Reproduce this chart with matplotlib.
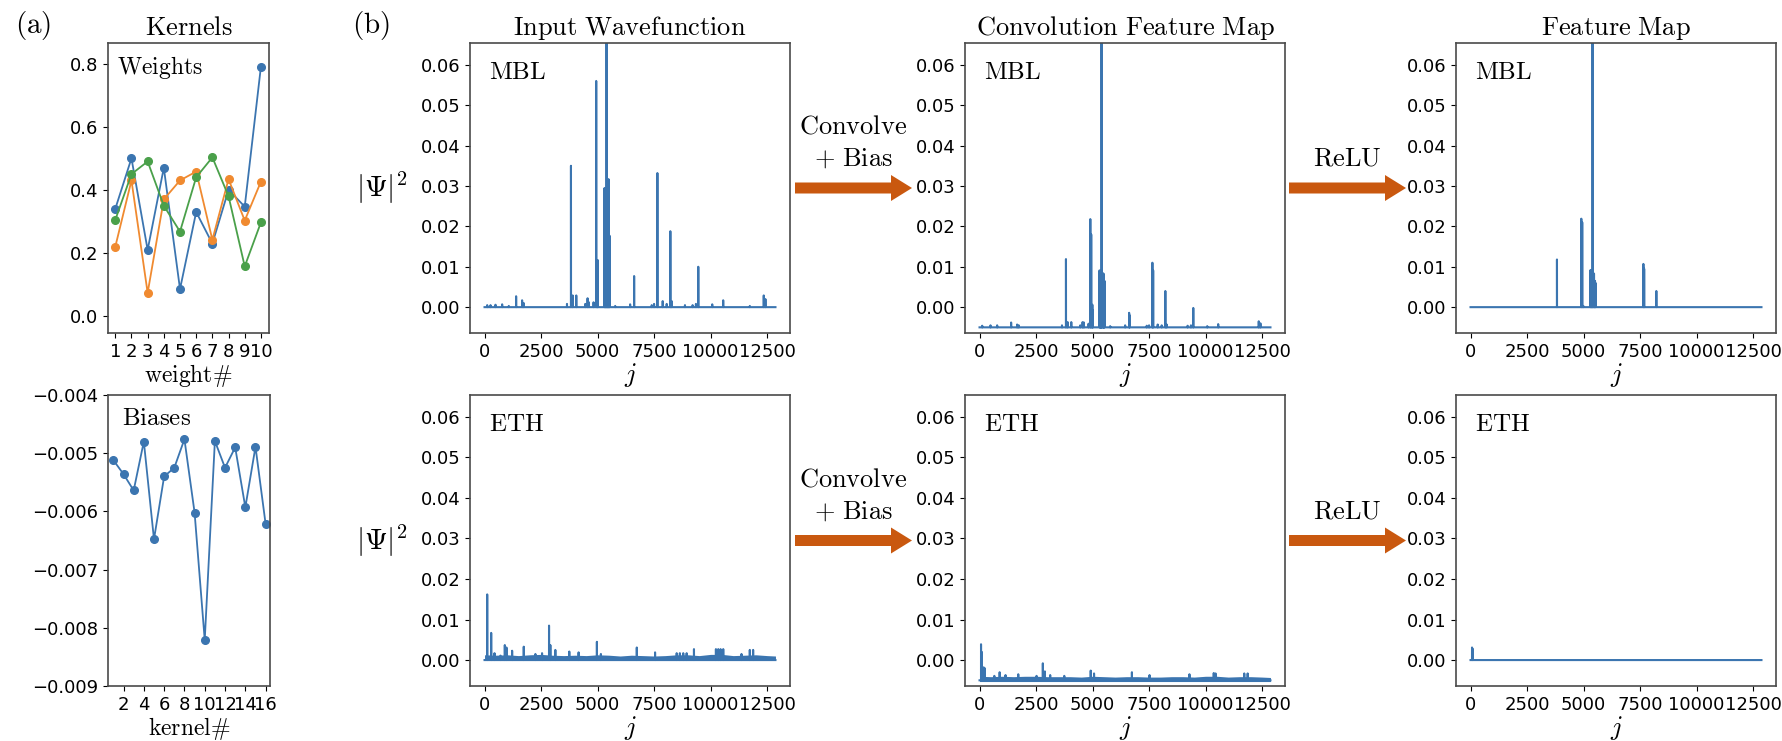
import numpy as np
import matplotlib
matplotlib.use("Agg")
import matplotlib.pyplot as plt
from matplotlib.patches import FancyArrow

plt.rcParams['mathtext.fontset'] = 'cm'
plt.rcParams['axes.edgecolor'] = '#4a4a4a'
plt.rcParams['axes.linewidth'] = 1.2

# ---- datos ----
weight_idx = [1, 2, 3, 4, 5, 6, 7, 8, 9, 10]
weights_k1 = [0.34, 0.50, 0.21, 0.47, 0.086, 0.33, 0.23, 0.40, 0.347, 0.79]
weights_k2 = [0.22, 0.43, 0.074, 0.37, 0.43, 0.458, 0.242, 0.434, 0.303, 0.426]
weights_k3 = [0.305, 0.45, 0.49, 0.35, 0.268, 0.44, 0.503, 0.38, 0.158, 0.297]

kernel_idx = [1, 2, 3, 4, 5, 6, 7, 8, 9, 10, 11, 12, 13, 14, 15, 16]
biases = [-0.00512, -0.00536, -0.00564, -0.00480, -0.00648, -0.00540, -0.00525, -0.00476,
          -0.00602, -0.00821, -0.00479, -0.00525, -0.00490, -0.00593, -0.00489, -0.00622]

n_j = 12870  # dimension del espacio de Hilbert

# MBL: funcion de onda de entrada (picos)
mbl_in_j = [118, 265, 485, 779, 1073, 1397, 1662, 1735, 3647, 3823, 3897, 4058, 4455, 4558,
            4617, 4823, 4940, 4990, 5014, 5308, 5330, 5352, 5375, 5397, 5420, 5440, 5462,
            5484, 5506, 5528, 5779, 6440, 6617, 7396, 7499, 7646, 7881, 8058, 8219, 8278,
            8866, 9204, 9351, 9455, 10072, 10557, 11734, 12351, 12425]
mbl_in_h = [0.0005, 0.0005, 0.0006, 0.0007, 0.0003, 0.0027, 0.0017, 0.0010, 0.0008, 0.0350,
            0.0029, 0.0029, 0.0008, 0.0022, 0.0012, 0.0012, 0.0560, 0.0116, 0.0116, 0.0295,
            0.0280, 0.0200, 0.0150, 0.0900, 0.0120, 0.0150, 0.0200, 0.0317, 0.0100, 0.0177,
            0.0003, 0.0007, 0.0077, 0.0005, 0.0008, 0.0332, 0.0015, 0.0008, 0.0188, 0.0015,
            0.0005, 0.0005, 0.0008, 0.0100, 0.0007, 0.0017, 0.0003, 0.0029, 0.0020]

# MBL: mapa de convolucion (sesgo ~ -0.005)
conv_base = -0.005
mbl_conv_j = [118, 485, 779, 1397, 1662, 1735, 3647, 3823, 3897, 4058, 4455, 4558, 4617,
              4823, 4900, 4940, 4990, 5014, 5308, 5330, 5352, 5375, 5397, 5420, 5462, 5484,
              5506, 5528, 5779, 6440, 6617, 6640, 7396, 7499, 7646, 7680, 7881, 8058, 8219,
              8278, 9204, 9351, 9455, 10072, 10557, 12351, 12425]
mbl_conv_h = [-0.0046, -0.0045, -0.0045, -0.0038, -0.0043, -0.0045, -0.0045, 0.0119,
              -0.0037, -0.0037, -0.0045, -0.0037, -0.0038, -0.0041, 0.0218, 0.0180, 0.0006,
              -0.0008, 0.0091, 0.0089, 0.0080, 0.0070, 0.0900, 0.0085, 0.0083, 0.0083, 0.0065,
              0.0065, -0.0047, -0.0045, -0.0014, -0.0020, -0.0046, -0.0045, 0.0110, 0.0091,
              -0.0043, -0.0045, 0.0040, -0.0043, -0.0046, -0.0045, -0.0002, -0.0047, -0.0042,
              -0.0035, -0.0040]

# MBL: mapa tras ReLU
mbl_relu_j = [3823, 4900, 4940, 4990, 5308, 5330, 5352, 5375, 5397, 5420, 5462, 5484, 5506,
              5528, 7646, 7680, 8219]
mbl_relu_h = [0.0118, 0.0219, 0.0210, 0.0003, 0.0092, 0.0089, 0.0080, 0.0070, 0.0900, 0.0085,
              0.0083, 0.0065, 0.0065, 0.0060, 0.0107, 0.0095, 0.0040]

# ETH: funcion de onda de entrada
eth_in_j = [118, 294, 441, 706, 897, 970, 1220, 1735, 2250, 2544, 2853, 2911, 3132, 3749,
            4161, 4970, 5147, 6735, 7543, 8500, 8640, 8790, 8940, 9264, 10235, 10338, 10441,
            10559, 11366, 11734, 11881]
eth_in_h = [0.0162, 0.0067, 0.0017, 0.0011, 0.0037, 0.0031, 0.0023, 0.0033, 0.0015, 0.0017,
            0.0085, 0.0037, 0.0025, 0.0021, 0.0019, 0.0045, 0.0015, 0.0031, 0.0019, 0.0017,
            0.0017, 0.0017, 0.0017, 0.0027, 0.0027, 0.0027, 0.0027, 0.0027, 0.0015, 0.0025,
            0.0025]
# banda de ruido de fondo (ETH)
eth_band_j = [0, 500, 1000, 1500, 2000, 2500, 3000, 3500, 4000, 4500, 5000, 5500, 6000, 6500,
              7000, 7500, 8000, 8500, 9000, 9500, 10000, 10500, 11000, 11500, 12000, 12500, 12869]
eth_band_h = [0.0013, 0.0012, 0.0013, 0.0011, 0.0013, 0.0014, 0.0012, 0.0011, 0.0012, 0.0011,
              0.0013, 0.0012, 0.0010, 0.0012, 0.0011, 0.0010, 0.0011, 0.0013, 0.0013, 0.0011,
              0.0014, 0.0014, 0.0011, 0.0012, 0.0013, 0.0011, 0.0010]

# ETH: mapa de convolucion
eth_conv_j = [66, 100, 183, 230, 655, 890, 1150, 1713, 2522, 2800, 2890, 3125, 3749, 4918,
              5065, 6740, 7520, 9285, 10360, 10440, 11710, 11860]
eth_conv_h = [0.0039, 0.0020, -0.0018, -0.0020, -0.0039, -0.0030, -0.0037, -0.0035, -0.0039,
              -0.0008, -0.0028, -0.0037, -0.0039, -0.0026, -0.0033, -0.0030, -0.0037, -0.0035,
              -0.0032, -0.0033, -0.0033, -0.0033]
eth_conv_band_lo = -0.0053
eth_conv_band_hi = [-0.0040, -0.0041, -0.0040, -0.0041, -0.0040, -0.0040, -0.0041, -0.0041,
                    -0.0041, -0.0042, -0.0040, -0.0041, -0.0042, -0.0041, -0.0041, -0.0042,
                    -0.0042, -0.0041, -0.0041, -0.0042, -0.0040, -0.0040, -0.0042, -0.0041,
                    -0.0041, -0.0042, -0.0043]

# ETH: tras ReLU
eth_relu_j = [66, 90]
eth_relu_h = [0.0031, 0.0028]

j_ticks = [0, 2500, 5000, 7500, 10000, 12500]
psi_ticks = [0.00, 0.01, 0.02, 0.03, 0.04, 0.05, 0.06]

blue = '#3b75b0'
orange = '#f08a30'
green = '#4aa04a'
arrow_col = '#c9580f'

W, H = 1783, 741
fig = plt.figure(figsize=(W / 100, H / 100), dpi=100)


def add_ax(l, t, r, b):
    return fig.add_axes([l / W, 1 - b / H, (r - l) / W, (b - t) / H])


def serie(base, js, hs):
    y = np.full(n_j, base)
    y[js] = hs
    return y


jj = np.arange(n_j)

# ---- (a) kernels ----
ax = add_ax(108, 43, 269, 333)
ax.plot(weight_idx, weights_k1, 'o-', color=blue, lw=1.3, ms=5.5)
ax.plot(weight_idx, weights_k2, 'o-', color=orange, lw=1.3, ms=5.5)
ax.plot(weight_idx, weights_k3, 'o-', color=green, lw=1.3, ms=5.5)
ax.set_xlim(0.55, 10.5)
ax.set_ylim(-0.053, 0.865)
ax.set_xticks(weight_idx)
ax.set_yticks([0.0, 0.2, 0.4, 0.6, 0.8])
ax.tick_params(labelsize=13)
ax.set_xlabel(r'$\mathrm{weight\#}$', fontsize=17, labelpad=1)
ax.set_title(r'$\mathrm{Kernels}$', fontsize=19, pad=6)
ax.text(0.056, 0.915, r'$\mathrm{Weights}$', transform=ax.transAxes, fontsize=17, va='center')

ax = add_ax(108, 395, 270, 686)
ax.plot(kernel_idx, biases, 'o-', color=blue, lw=1.3, ms=5.5)
ax.set_xlim(0.47, 16.43)
ax.set_ylim(-0.009, -0.004)
ax.set_xticks([2, 4, 6, 8, 10, 12, 14, 16])
ax.set_yticks([-0.004, -0.005, -0.006, -0.007, -0.008, -0.009])
ax.tick_params(labelsize=13)
ax.set_xlabel(r'$\mathrm{kernel\#}$', fontsize=17, labelpad=1)
ax.text(0.086, 0.92, r'$\mathrm{Biases}$', transform=ax.transAxes, fontsize=18, va='center')

# ---- (b) mapas ----
cols = [470, 965, 1456]
rows = [(43, 333), (395, 686)]
titles = [r'$\mathrm{Input\ Wavefunction}$', r'$\mathrm{Convolution\ Feature\ Map}$',
          r'$\mathrm{Feature\ Map}$']

series = [
    [serie(0.0, mbl_in_j, mbl_in_h), serie(conv_base, mbl_conv_j, mbl_conv_h),
     serie(0.0, mbl_relu_j, mbl_relu_h)],
    [serie(0.0, eth_in_j, eth_in_h), serie(conv_base, eth_conv_j, eth_conv_h),
     serie(0.0, eth_relu_j, eth_relu_h)],
]
tags = [r'$\mathrm{MBL}$', r'$\mathrm{ETH}$']

for r, (t, b) in enumerate(rows):
    for c, l in enumerate(cols):
        ax = add_ax(l, t, l + 320, b)
        if r == 1 and c == 0:
            ax.fill_between(eth_band_j, 0, eth_band_h, color=blue, lw=0)
        if r == 1 and c == 1:
            ax.fill_between(eth_band_j, eth_conv_band_lo, eth_conv_band_hi, color=blue, lw=0)
        ax.plot(jj, series[r][c], color=blue, lw=1.5)
        ax.set_xlim(-643, 13512)
        ax.set_ylim(-0.0064, 0.0654)
        ax.set_xticks(j_ticks)
        ax.set_yticks(psi_ticks)
        ax.tick_params(labelsize=13)
        ax.set_xlabel(r'$j$', fontsize=19, labelpad=0)
        ax.text(0.06, 0.9, tags[r], transform=ax.transAxes, fontsize=18, va='center')
        if r == 0:
            ax.set_title(titles[c], fontsize=19, pad=6)
        if c == 0:
            ax.set_ylabel(r'$|\Psi|^2$', fontsize=21, rotation=0, labelpad=28, va='center')

# flechas entre paneles
for (t, b) in rows:
    yc = 1 - ((t + b) / 2) / H
    for x0, x1, lab in [(795, 912, 'conv'), (1289, 1406, 'relu')]:
        hl = 21 / W
        fig.add_artist(FancyArrow(x0 / W, yc, (x1 - x0) / W - hl, 0, width=11 / H,
                                  head_width=26 / H, head_length=hl, length_includes_head=False,
                                  color=arrow_col, lw=0, transform=fig.transFigure))
        xm = (x0 + x1) / 2 / W
        if lab == 'conv':
            fig.text(xm, yc + 61 / H, r'$\mathrm{Convolve}$', fontsize=19, ha='center', va='center')
            fig.text(xm, yc + 29 / H, r'$+\ \mathrm{Bias}$', fontsize=19, ha='center', va='center')
        else:
            fig.text(xm, yc + 29 / H, r'$\mathrm{ReLU}$', fontsize=19, ha='center', va='center')

fig.text(33 / W, 1 - 25 / H, r'$\mathrm{(a)}$', fontsize=21, ha='center', va='center')
fig.text(371 / W, 1 - 25 / H, r'$\mathrm{(b)}$', fontsize=21, ha='center', va='center')

fig.savefig('out.png', dpi=100)
